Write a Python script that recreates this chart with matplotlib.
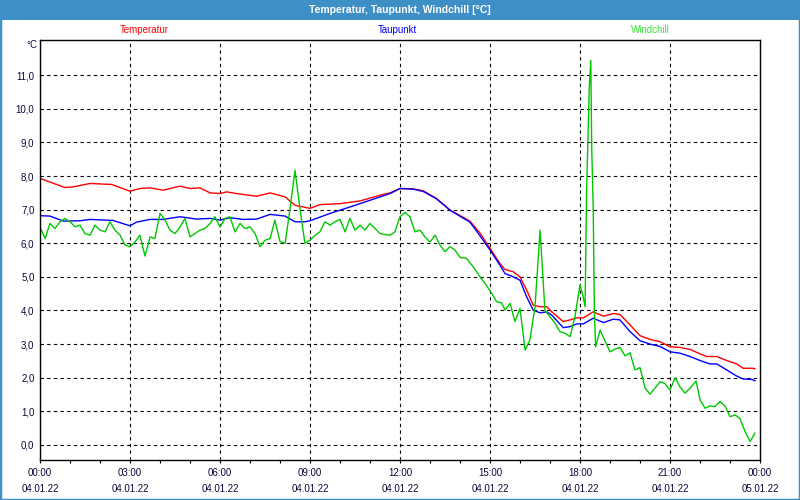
import matplotlib
matplotlib.use("Agg")
import matplotlib.pyplot as plt
from matplotlib.patches import Rectangle
from matplotlib.ticker import MultipleLocator, FixedLocator

# hours since 04.01.22 00:00
temp_t = [0.00, 0.83, 1.11, 1.67, 2.39, 3.00, 3.33, 3.67, 4.10, 4.67, 5.00, 5.33,
          5.67, 6.00, 6.22, 6.56, 7.22, 7.67, 8.17, 8.50, 9.00, 9.33, 10.00, 10.67,
          11.33, 11.67, 12.00, 12.44, 12.78, 13.22, 13.67, 14.33, 14.67, 15.00, 15.33,
          15.50, 15.78, 16.00, 16.22, 16.44, 16.67, 16.89, 17.06, 17.44, 17.67, 17.89,
          18.11, 18.44, 18.78, 19.11, 19.33, 19.67, 20.00, 20.33, 20.67, 21.00, 21.33,
          21.67, 22.00, 22.22, 22.56, 22.89, 23.22, 23.44, 23.78, 23.83]
temp_v = [7.93, 7.66, 7.68, 7.78, 7.75, 7.55, 7.63, 7.65, 7.58, 7.70, 7.63, 7.65,
          7.50, 7.48, 7.53, 7.48, 7.40, 7.50, 7.38, 7.13, 7.04, 7.15, 7.18, 7.26,
          7.43, 7.50, 7.63, 7.62, 7.56, 7.33, 6.99, 6.66, 6.30, 5.85, 5.40,
          5.22, 5.15, 5.00, 4.61, 4.16, 4.11, 4.11, 3.96, 3.67, 3.72, 3.78,
          3.78, 3.96, 3.83, 3.91, 3.88, 3.57, 3.25, 3.14, 3.07, 2.92, 2.90,
          2.84, 2.71, 2.63, 2.63, 2.51, 2.41, 2.28, 2.28, 2.26]

dew_t = [0.00, 0.33, 0.78, 1.33, 1.67, 2.43, 3.00, 3.22, 3.67, 4.10, 4.67, 5.22,
         5.67, 6.00, 6.33, 6.77, 7.22, 7.67, 8.17, 8.50, 8.83, 9.00, 9.67, 10.33,
         11.00, 11.67, 12.00, 12.44, 12.78, 13.22, 13.67, 14.33, 14.67, 15.00, 15.33,
         15.50, 15.78, 16.00, 16.22, 16.44, 16.67, 16.89, 17.06, 17.44, 17.67, 17.89,
         18.11, 18.44, 18.78, 19.11, 19.33, 19.67, 20.00, 20.33, 20.67, 21.00, 21.33,
         21.67, 22.00, 22.33, 22.56, 22.89, 23.22, 23.44, 23.72, 23.83]
dew_v = [6.82, 6.81, 6.66, 6.67, 6.71, 6.68, 6.52, 6.63, 6.71, 6.71, 6.79, 6.72,
         6.74, 6.69, 6.76, 6.71, 6.72, 6.86, 6.81, 6.64, 6.64, 6.67, 6.89, 7.08,
         7.28, 7.48, 7.63, 7.61, 7.54, 7.32, 6.98, 6.63, 6.22, 5.80, 5.35,
         5.10, 5.00, 4.90, 4.41, 4.01, 3.93, 3.96, 3.86, 3.49, 3.52, 3.60,
         3.60, 3.77, 3.64, 3.74, 3.72, 3.37, 3.10, 3.00, 2.93, 2.77, 2.73,
         2.63, 2.51, 2.41, 2.41, 2.23, 2.05, 1.96, 1.95, 1.91]

wc_t = [0.00, 0.17, 0.33, 0.50, 0.67, 0.83, 1.00, 1.17, 1.33, 1.50, 1.67, 1.83,
        2.00, 2.17, 2.33, 2.50, 2.67, 2.83, 3.00, 3.17, 3.33, 3.50, 3.67, 3.83,
        4.00, 4.17, 4.33, 4.50, 4.67, 4.83, 5.00, 5.17, 5.33, 5.50, 5.67, 5.83,
        6.00, 6.17, 6.33, 6.50, 6.67, 6.83, 7.00, 7.17, 7.33, 7.50, 7.67, 7.83,
        8.00, 8.17, 8.33, 8.50, 8.67, 8.83, 9.00, 9.17, 9.33, 9.50, 9.67, 9.83,
        10.00, 10.17, 10.33, 10.50, 10.67, 10.83, 11.00, 11.17, 11.33, 11.50, 11.67, 11.83,
        12.00, 12.17, 12.33, 12.50, 12.67, 12.83, 13.00, 13.17, 13.33, 13.50, 13.67, 13.83,
        14.00, 14.22, 14.44, 14.67, 14.83, 15.06, 15.22, 15.39, 15.50, 15.67, 15.83,
        16.00, 16.17, 16.33, 16.50, 16.67, 16.83, 17.00, 17.17, 17.33, 17.50, 17.67,
        17.83, 18.00, 18.08, 18.17, 18.22, 18.31, 18.36, 18.39, 18.44, 18.48, 18.52,
        18.67, 18.83, 19.00, 19.17, 19.33, 19.50, 19.67, 19.83, 20.00, 20.17, 20.33,
        20.50, 20.67, 20.83, 21.00, 21.17, 21.33, 21.50, 21.67, 21.87, 22.00, 22.17,
        22.33, 22.50, 22.67, 22.83, 23.00, 23.17, 23.33, 23.50, 23.67, 23.83]
wc_v = [6.49, 6.14, 6.59, 6.44, 6.64, 6.74, 6.64, 6.49, 6.54, 6.29, 6.24, 6.54,
        6.39, 6.34, 6.64, 6.39, 6.24, 5.95, 5.90, 6.04, 6.24, 5.62, 6.19, 6.14,
        6.89, 6.69, 6.39, 6.29, 6.49, 6.74, 6.19, 6.29, 6.39, 6.44, 6.59, 6.79,
        6.49, 6.74, 6.79, 6.34, 6.59, 6.44, 6.49, 6.29, 5.90, 6.09, 6.14, 6.69,
        6.05, 6.00, 7.00, 8.17, 7.00, 6.00, 6.09, 6.24, 6.34, 6.64, 6.54, 6.64,
        6.71, 6.34, 6.74, 6.39, 6.54, 6.39, 6.59, 6.44, 6.29, 6.26, 6.24, 6.34,
        6.79, 6.92, 6.79, 6.34, 6.39, 6.19, 6.04, 6.24, 5.95, 5.75, 5.90, 5.80,
        5.58, 5.55, 5.30, 5.00, 4.81, 4.51, 4.26, 4.23, 4.01, 4.21, 3.67,
        4.06, 2.82, 3.12, 4.11, 6.39, 4.01, 3.81, 3.62, 3.37, 3.32, 3.22,
        3.81, 4.76, 4.51, 4.11, 7.58, 10.65, 11.44, 8.87, 7.08, 3.91, 2.92,
        3.42, 3.10, 2.77, 2.85, 2.90, 2.65, 2.74, 2.23, 2.30, 1.69, 1.51,
        1.69, 1.88, 1.83, 1.63, 2.00, 1.73, 1.54, 1.69, 1.90, 1.34, 1.09,
        1.16, 1.14, 1.29, 1.16, 0.84, 0.89, 0.79, 0.40, 0.10, 0.35]

x_ticks = [0, 3, 6, 9, 12, 15, 18, 21, 24]
x_labels = ["00:00\n04.01.22", "03:00\n04.01.22", "06:00\n04.01.22",
            "09:00\n04.01.22", "12:00\n04.01.22", "15:00\n04.01.22",
            "18:00\n04.01.22", "21:00\n04.01.22", "00:00\n05.01.22"]
y_ticks = list(range(0, 12))
y_labels = ["%d,0" % v for v in y_ticks]

bar_blue = "#3d8fc6"
label_col = "#0a0a3c"
plt.rcParams["font.family"] = ["Liberation Sans", "DejaVu Sans"]

fig = plt.figure(figsize=(8, 5), dpi=100, facecolor="white")
ax = fig.add_axes([0.05, 0.08, 0.90, 0.84])

ax.plot(temp_t, temp_v, color="#ff0000", lw=1.0)
ax.plot(dew_t, dew_v, color="#0000ff", lw=1.0)
ax.plot(wc_t, wc_v, color="#00c800", lw=1.0)

ax.set_xlim(0, 24)
ax.set_ylim(-0.45, 12.05)
ax.xaxis.set_major_locator(FixedLocator(x_ticks))
ax.xaxis.set_minor_locator(MultipleLocator(1))
ax.set_xticklabels(x_labels, fontsize=7, color=label_col, linespacing=1.75)
ax.set_yticks(y_ticks)
ax.set_yticklabels(y_labels, fontsize=7, color=label_col)
ax.tick_params(axis="x", which="both", direction="out", length=2.5, width=0.8, pad=3)
ax.tick_params(axis="y", length=0, pad=4)
ax.grid(True, which="major", color="black", linestyle=(0, (3, 3)), lw=0.8)
for s in ax.spines.values():
    s.set_linewidth(1.0)

# title bar and border
fig.patches.append(Rectangle((0, 1 - 20 / 500), 1, 20 / 500, transform=fig.transFigure,
                             facecolor=bar_blue, edgecolor="none", zorder=0))
fig.patches.append(Rectangle((0, 0), 1, 1, transform=fig.transFigure, fill=False,
                             edgecolor=bar_blue, lw=2.5))
fig.text(0.5, 1 - 10 / 500, "Temperatur, Taupunkt, Windchill [°C]", color="white",
         fontsize=7.5, fontweight="bold", ha="center", va="center")

# series names
fig.text(144 / 800, 1 - 30 / 500, "Temperatur", color="#ff0000", fontsize=7, ha="center", va="center")
fig.text(397 / 800, 1 - 30 / 500, "Taupunkt", color="#0000ff", fontsize=7, ha="center", va="center")
fig.text(650 / 800, 1 - 30 / 500, "Windchill", color="#33e633", fontsize=7, ha="center", va="center")
fig.text(37 / 800, 1 - 45 / 500, "°C", color=label_col, fontsize=7, ha="right", va="center")

fig.savefig("out.png", dpi=100, facecolor="white")
